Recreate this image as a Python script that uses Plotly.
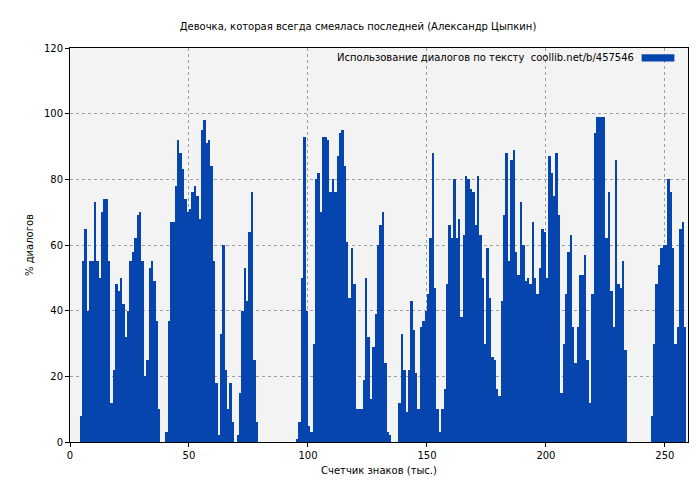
import plotly.graph_objects as go

# dialogue share (%) per thousand characters, starting at 0k
dialog_pct = [
    0, 0, 0, 0, 8, 55, 65, 40, 55, 55,
    73, 55, 50, 70, 74, 74, 55, 12, 22, 48,
    46, 50, 42, 32, 40, 55, 58, 62, 69, 70,
    55, 20, 25, 53, 55, 49, 37, 10, 0, 0,
    3, 37, 67, 67, 78, 92, 88, 83, 74, 70,
    71, 76, 78, 75, 68, 95, 98, 91, 92, 84,
    55, 18, 2, 33, 60, 22, 10, 18, 6, 0,
    2, 15, 40, 53, 43, 64, 76, 25, 6, 0,
    0, 0, 0, 0, 0, 0, 0, 0, 0, 0,
    0, 0, 0, 0, 0, 1, 6, 50, 93, 40,
    5, 3, 30, 80, 82, 70, 93, 93, 92, 76,
    80, 76, 87, 94, 95, 84, 61, 44, 59, 48,
    10, 10, 10, 19, 50, 32, 13, 29, 39, 60,
    66, 70, 24, 3, 2, 0, 0, 0, 12, 33,
    22, 9, 22, 43, 34, 21, 10, 35, 37, 40,
    45, 62, 88, 47, 10, 3, 10, 16, 48, 66,
    62, 80, 62, 68, 38, 63, 81, 80, 77, 76,
    66, 81, 63, 50, 30, 59, 44, 26, 25, 16,
    14, 43, 69, 88, 55, 86, 89, 58, 51, 73,
    60, 49, 50, 48, 67, 50, 45, 53, 65, 64,
    50, 87, 82, 75, 88, 69, 15, 30, 45, 58,
    63, 35, 24, 35, 51, 51, 57, 25, 12, 45,
    94, 99, 99, 99, 99, 62, 76, 46, 35, 86,
    48, 47, 55, 28, 0, 0, 0, 0, 0, 0,
    0, 0, 0, 0, 8, 30, 48, 54, 59, 60,
    60, 80, 76, 59, 30, 35, 65, 67, 35,
]
x_k = [i + 0.5 for i in range(len(dialog_pct))]
x_ticks = [0, 50, 100, 150, 200, 250]
y_ticks = [0, 20, 40, 60, 80, 100, 120]

BLUE = "#0645ad"
fnt = "DejaVu Sans, Verdana, sans-serif"

fig = go.Figure(go.Bar(
    x=x_k, y=dialog_pct, width=1.0,
    marker=dict(color=BLUE, line=dict(width=0)),
    showlegend=False,
))

axis_common = dict(
    showline=True, linecolor="black", linewidth=1, mirror=True,
    ticks="outside", ticklen=4, tickcolor="black",
    showgrid=True, gridcolor="#a0a0a0", griddash="dot", gridwidth=1,
    zeroline=False, automargin=False,
    tickfont=dict(size=10, color="black", family=fnt),
)

fig.update_layout(
    width=700, height=480,
    margin=dict(l=62, r=20, t=40, b=46),
    paper_bgcolor="white", plot_bgcolor="#f3f3f3",
    bargap=0,
    font=dict(family=fnt, size=10, color="black"),
    title=dict(text="Девочка, которая всегда смеялась последней (Александр Цыпкин)",
               x=0.5, xanchor="center", y=0.962, yanchor="middle", font=dict(size=10)),
    xaxis=dict(range=[0, 259.7], tickvals=x_ticks,
               title=dict(text="Счетчик знаков (тыс.)", font=dict(size=10), standoff=6),
               **axis_common),
    yaxis=dict(range=[0, 120], tickvals=y_ticks,
               title=dict(text="% диалогов", font=dict(size=10), standoff=8),
               **axis_common),
    annotations=[dict(
        text="Использование диалогов по тексту  coollib.net/b/457546",
        xref="paper", yref="paper", x=0.916, y=0.975,
        xanchor="right", yanchor="middle", showarrow=False,
        font=dict(size=10),
    )],
    shapes=[dict(
        type="rect", xref="paper", yref="paper",
        x0=0.925, x1=0.978, y0=0.966, y1=0.984,
        fillcolor=BLUE, line=dict(width=0),
    )],
)

fig.write_html("out.html")
